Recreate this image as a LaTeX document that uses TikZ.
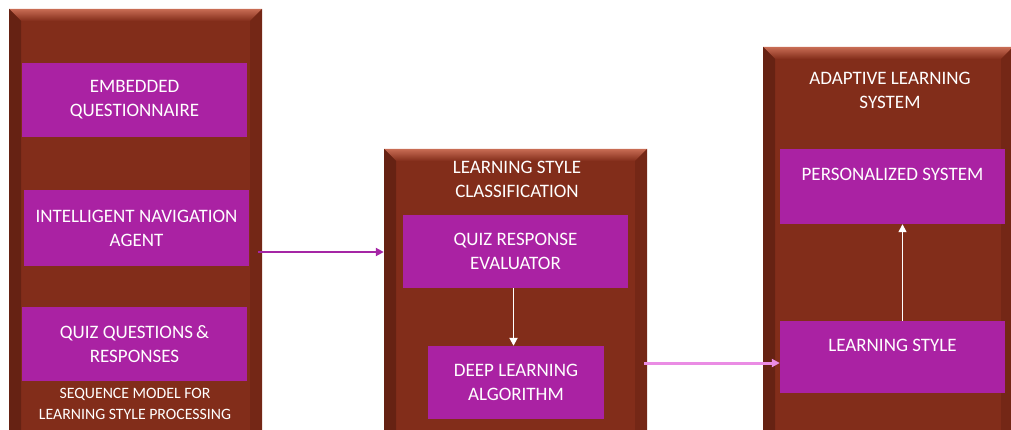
\documentclass[tikz,border=0pt]{standalone}
\usepackage{fontspec}
\setmainfont{Carlito}
\usetikzlibrary{positioning}
\usetikzlibrary{arrows.meta}
\definecolor{panelbrown}{RGB}{130,45,26}
\definecolor{bevellight}{RGB}{200,108,84}
\definecolor{beveldark}{RGB}{102,34,19}
\definecolor{bevelside}{RGB}{116,39,22}
\definecolor{boxpurple}{RGB}{170,34,163}
\definecolor{flowpurple}{RGB}{165,38,165}
\definecolor{flowpink}{RGB}{234,140,228}
\tikzset{
  every node/.append style={font=\fontsize{19}{24}\selectfont, text=white},
  every text node part/.append style={align=center}
}
\tikzstyle{panel} = [fill=panelbrown, inner sep=0pt, path picture={
    \path (path picture bounding box.north west) coordinate (nw)
          (path picture bounding box.north east) coordinate (ne)
          (path picture bounding box.south west) coordinate (sw)
          (path picture bounding box.south east) coordinate (se);
    \shade[top color=bevellight, bottom color=panelbrown]
      (nw) -- (ne) -- ([shift={(-12pt,-12pt)}]ne) -- ([shift={(12pt,-12pt)}]nw) -- cycle;
    \fill[beveldark] (nw) -- ([shift={(12pt,-12pt)}]nw) -- ([xshift=12pt]sw) -- (sw) -- cycle;
    \fill[bevelside] (ne) -- ([shift={(-12pt,-12pt)}]ne) -- ([xshift=-12pt]se) -- (se) -- cycle;
  }]
\tikzstyle{box} = [fill=boxpurple, inner sep=0pt, minimum width=225pt]
\tikzstyle{caption} = [font=\fontsize{15.8}{21}\selectfont]
\tikzstyle{arrow} = [-{Triangle[length=8pt, width=8pt]}]
\newcommand\panel[4]{
  % #1 - Tikz name
  % #2 - Center
  % #3 - Width
  % #4 - Height
  \node [panel, minimum width=#3, minimum height=#4] at (#2) (#1) {};
}

\begin{document}
\begin{tikzpicture}[x=1pt, y=-1pt]
  \useasboundingbox (0,0) rectangle (1011,430);

  \panel{seq}{135.5,219.5}{253pt}{421pt}
  \panel{lsc}{515.5,289.5}{263pt}{281pt}
  \panel{als}{888,238.5}{250pt}{383pt}

  % sequence model
  \node [box, minimum height=74pt] at (134.5,100) (emb) {EMBEDDED\\QUESTIONNAIRE};
  \node [box, minimum height=75pt] at (136.5,228) (nav) {INTELLIGENT NAVIGATION\\AGENT};
  \node [box, minimum height=74pt] at (134.5,344) (quiz) {QUIZ QUESTIONS\,\&\\RESPONSES};
  \node [caption] at (135,403.5) (seqcap) {SEQUENCE MODEL FOR\\LEARNING STYLE PROCESSING};

  % classification
  \node at (517,179.5) (lsctitle) {LEARNING STYLE\\CLASSIFICATION};
  \node [box, minimum height=73pt] at (515.5,251.5) (qre) {QUIZ RESPONSE\\EVALUATOR};
  \node [box, minimum width=176pt, minimum height=73pt] at (516,382.5) (dla) {DEEP LEARNING\\ALGORITHM};

  % adaptive system
  \node at (890,90) (alstitle) {ADAPTIVE LEARNING\\SYSTEM};
  \node [box, minimum height=75pt] at (892.5,186.5) (pers) {PERSONALIZED SYSTEM\\\mbox{}};
  \node [box, minimum height=72pt] at (892.5,357) (style) {LEARNING STYLE\\\mbox{}};

  \coordinate (navout) at (258,252);
  \coordinate (dlaout) at (644,363);
  \draw[arrow, flowpurple, line width=2.8pt] (navout) -- (navout -| lsc.west);
  \draw[arrow, flowpink, line width=3pt] (dlaout) -- (dlaout -| style.west);
  \draw[arrow, white, line width=1.8pt] ([xshift=-2pt]qre.south) -- ([xshift=-2pt]qre.south |- dla.north);
  \draw[arrow, white, line width=1.5pt] ([xshift=10pt]style.north) -- ([xshift=10pt]style.north |- pers.south);
\end{tikzpicture}
\end{document}
